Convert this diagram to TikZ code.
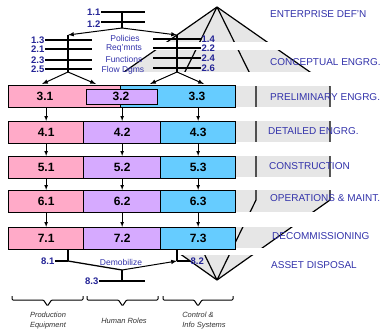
\documentclass[tikz,border=0pt]{standalone}
\usepackage{fontspec}
\setmainfont{Liberation Sans}
\usetikzlibrary{positioning}

\definecolor{numblue}{RGB}{36,36,150}
\definecolor{stageblue}{RGB}{50,50,170}
\definecolor{equippink}{RGB}{255,170,200}
\definecolor{rolelilac}{RGB}{214,170,255}
\definecolor{ctrlblue}{RGB}{102,204,255}
\definecolor{bandgray}{RGB}{230,230,230}

\begin{document}
\begin{tikzpicture}[x=1pt,y=-1pt,
  phasebox/.style={draw=black, line width=1.3pt, inner sep=0pt, minimum height=21.5pt, font=\fontsize{12}{12}\selectfont\bfseries},
  stepnum/.style={font=\fontsize{9.5}{9.5}\selectfont\bfseries, text=numblue, inner sep=0.5pt},
  stagename/.style={font=\fontsize{10}{10}\selectfont, text=stageblue, anchor=west, inner sep=0pt},
  doclabel/.style={font=\fontsize{8.5}{9}\selectfont, text=stageblue, inner sep=0pt},
  treeline/.style={line width=1.3pt},
  branch/.style={line width=1pt, ->, >=latex},
  funnel/.style={line width=1.2pt},
  flow/.style={->, >=latex, line width=0.7pt},
  colname/.style={font=\fontsize{7.5}{10}\selectfont\itshape, text=black!80, align=center, inner sep=0pt}]

\useasboundingbox (0,0) rectangle (388,332);

% Draw the gray bands inside the funnel
\begin{scope}
  \clip (217,7) -- (330,86) -- (330,200) -- (217,280) -- (104,200) -- (104,86) -- cycle;
  \fill[bandgray] (100,7) rectangle (340,72);
  \foreach \yt/\yb in {86/107,121/142,156/177,190/212,227/248,255/285}
    \fill[bandgray] (100,\yt) rectangle (340,\yb);
\end{scope}

% Draw the funnel lines, apex to bottom point
\foreach \xf in {104,178,256,330}
  \draw[funnel] (217,7) -- (\xf,86) -- (\xf,200) -- (217,280);

% white gaps between the bands
\fill[white] (140,42) rectangle (388,50);
\foreach \yt/\yb in {72/86,107/121,142/156,177/190,212/227,248/255}
  \fill[white] (90,\yt) rectangle (388,\yb);

% Phase 3 boxes
\node[phasebox, fill=equippink, minimum width=112pt, anchor=north west] (b31) at (8,85) {};
\node[phasebox, fill=ctrlblue, minimum width=115pt, anchor=north west] (b33) at (120,85) {};
\node[phasebox, fill=rolelilac, minimum width=71pt, minimum height=15pt, anchor=north west] (b32) at (86,89) {};
\node[phasebox, draw=none] (l31) at (45,96) {3.1};
\node[phasebox, draw=none] (l32) at (121,96) {3.2};
\node[phasebox, draw=none] (l33) at (197,96) {3.3};

% Phase 4 to 7 boxes
\foreach \r/\yt in {4/121,5/156,6/190,7/227} {
  \node[phasebox, fill=equippink, minimum width=75pt, anchor=north west] (b\r1) at (8,\yt) {\r.1};
  \node[phasebox, fill=rolelilac, minimum width=77pt, anchor=north west] (b\r2) at (83,\yt) {\r.2};
  \node[phasebox, fill=ctrlblue, minimum width=75pt, anchor=north west] (b\r3) at (160,\yt) {\r.3};
}

% arrows between the phases
\draw[flow] (b41.north |- b31.south) -- (b41.north);
\draw[flow] (b42.north |- b33.south) -- (b42.north);
\draw[flow] (b43.north |- b33.south) -- (b43.north);
\foreach \r/\s in {4/5,5/6,6/7}
  \foreach \c in {1,2,3}
    \draw[flow] (b\r\c.south) -- (b\s\c.north);

% Top tree: enterprise definition
\node[stepnum, anchor=east] (s11) at (101,12) {1.1};
\node[stepnum, anchor=east] (s12) at (101,24) {1.2};
\coordinate (e11) at (145,12);
\coordinate (e12) at (145,22);
\coordinate (top) at (122,12);
\coordinate (fork) at (122,28);
\coordinate (lcol) at (68,35);
\coordinate (rcol) at (177,35);
\coordinate (lbot) at (68,72);
\coordinate (rbot) at (177,72);
\draw[treeline] (s11.east) -- (e11);
\draw[treeline] (s12.east |- e12) -- (e12);
\draw[treeline] (top) -- (fork);
\draw[branch] (fork) -- (lcol);
\draw[branch] (fork) -- (rcol);
\draw[treeline] (lcol) -- (lbot);
\draw[treeline] (rcol) -- (rbot);

% conceptual steps, left and right
\foreach \n/\t/\y in {s13/1.3/40, s21/2.1/49, s23/2.3/60, s25/2.5/69} {
  \node[stepnum, anchor=east] (\n) at (45,\y) {\t};
  \draw[treeline] (\n.east) -- ++(47,0);
}
\foreach \n/\t/\y in {s14/1.4/39, s22/2.2/48, s24/2.4/58, s26/2.6/68} {
  \node[stepnum, anchor=west] (\n) at (201,\y) {\t};
  \draw[treeline] (\n.west) -- ++(-48,0);
}
\node[doclabel] (pol) at (125,38) {Policies};
\node[doclabel] (req) at (124,48) {Req'mnts};
\node[doclabel] (fun) at (124,59) {Functions};
\node[doclabel] (flw) at (123,70) {Flow Dgms};

% branches into phase 3
\coordinate (in1) at (42,84);
\coordinate (in2) at (96,84);
\coordinate (in3) at (150,84);
\coordinate (in4) at (204,84);
\draw[branch] (lbot) -- (in1);
\draw[branch] (lbot) -- (in2);
\draw[branch] (rbot) -- (in3);
\draw[branch] (rbot) -- (in4);

% Bottom tree: asset disposal
\coordinate (d1) at (68,261);
\coordinate (d2) at (177,261);
\coordinate (d3) at (122,270);
\coordinate (d3b) at (122,280);
\draw[treeline] (d1 |- b71.south) -- (d1);
\draw[treeline] (d2 |- b73.south) -- (d2);
\node[stepnum, anchor=east] (s81) at (55,261) {8.1};
\node[stepnum, anchor=west] (s82) at (190,261) {8.2};
\node[stepnum, anchor=east] (s83) at (99,281) {8.3};
\draw[treeline] (s81.east) -- (d1);
\draw[treeline] (d2) -- (s82.west);
\draw[treeline] (d3) -- (d1);
\draw[branch] (d3) -- (d2);
\draw[treeline] (d3) -- (d3b);
\draw[treeline] (s83.east) -- ++(46,0);
\node[doclabel] (demob) at (121,262) {Demobilize};

% Phase names on the right
\node[stagename] (ph1) at (270,14) {ENTERPRISE DEF'N};
\node[stagename] (ph2) at (270,62) {CONCEPTUAL ENGRG.};
\node[stagename] (ph3) at (270,97) {PRELIMINARY ENGRG.};
\node[stagename] (ph4) at (268,131) {DETAILED ENGRG.};
\node[stagename] (ph5) at (269,166) {CONSTRUCTION};
\node[stagename] (ph6) at (270,198) {OPERATIONS \& MAINT.};
\node[stagename] (ph7) at (272,236) {DECOMMISSIONING};
\node[stagename] (ph8) at (271,265) {ASSET DISPOSAL};

% Column braces and names
\foreach \xl/\xr in {12/83, 87/158, 163/233}
  \draw[line width=1pt, rounded corners=1pt] (\xl,296) -- (\xl,300) -- ({(\xl+\xr)/2-4},300) -- ({(\xl+\xr)/2},306) -- ({(\xl+\xr)/2+4},300) -- (\xr,300) -- (\xr,296);
\node[colname] (eqp) at (48,321) {Production\\Equipment};
\node[colname] (hum) at (124,321) {Human Roles};
\node[colname, align=left] (ctl) at (204,321) {Control \&\\Info Systems};

\end{tikzpicture}
\end{document}
